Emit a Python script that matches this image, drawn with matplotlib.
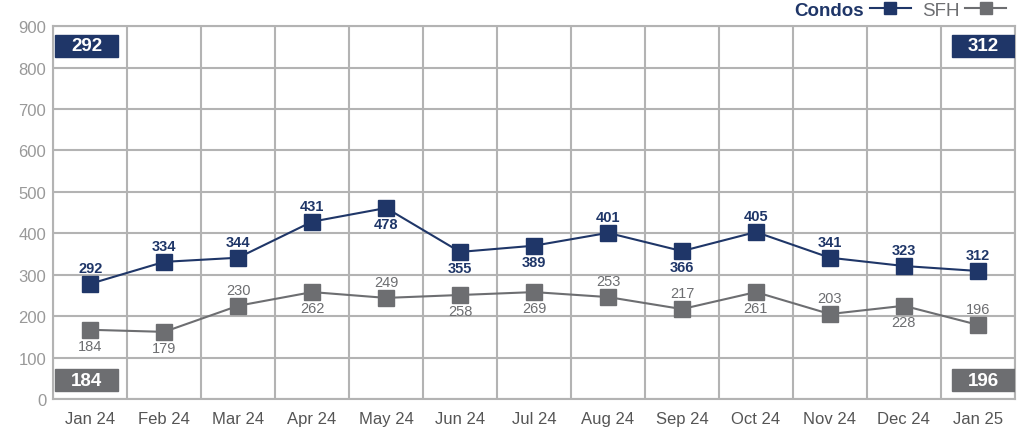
import matplotlib
matplotlib.use('Agg')
import matplotlib.pyplot as plt
from matplotlib.patches import Rectangle
from matplotlib.lines import Line2D

plt.rcParams['font.family'] = ['Liberation Sans', 'DejaVu Sans']

months = ['Jan 24', 'Feb 24', 'Mar 24', 'Apr 24', 'May 24', 'Jun 24', 'Jul 24',
          'Aug 24', 'Sep 24', 'Oct 24', 'Nov 24', 'Dec 24', 'Jan 25']
# where the points sit on the picture
condos = [278, 331, 341, 428, 461, 355, 370, 401, 357, 403, 341, 321, 309]
sfh = [167, 162, 225, 258, 244, 251, 258, 246, 217, 258, 205, 225, 179]
# the numbers printed next to them
condo_labels = ['292', '334', '344', '431', '478', '355', '389', '401', '366', '405', '341', '323', '312']
sfh_labels = ['184', '179', '230', '262', '249', '258', '269', '253', '217', '261', '203', '228', '196']
condo_above = [1, 1, 1, 1, 0, 0, 0, 1, 0, 1, 1, 1, 1]
sfh_above = [0, 0, 1, 0, 1, 0, 0, 1, 1, 0, 1, 0, 1]

navy = '#1f3668'
grey = '#6d6e71'
gridc = '#b3b3b3'

fig = plt.figure(figsize=(10.24, 4.31), dpi=100)
ax = fig.add_axes([0.052, 0.072, 0.939, 0.865])
x = list(range(len(months)))

ax.plot(x, condos, color=navy, lw=1.5, marker='s', ms=11, zorder=3)
ax.plot(x, sfh, color=grey, lw=1.5, marker='s', ms=11, zorder=3)

for i in x:
    off = 22 if condo_above[i] else -22
    ax.text(i, condos[i] + off, condo_labels[i], ha='center',
            va='bottom' if condo_above[i] else 'top',
            color=navy, fontsize=10.5, fontweight='bold')
    off = 22 if sfh_above[i] else -22
    ax.text(i, sfh[i] + off, sfh_labels[i], ha='center',
            va='bottom' if sfh_above[i] else 'top',
            color=grey, fontsize=10.5)

# corner boxes
for xs, txt, y0, c in [(-0.47, condo_labels[0], 826, navy), (11.65, condo_labels[-1], 826, navy),
                       (-0.47, sfh_labels[0], 19, grey), (11.65, sfh_labels[-1], 19, grey)]:
    ax.add_patch(Rectangle((xs, y0), 0.85, 53, color=c, zorder=4))
    ax.text(xs + 0.425, y0 + 26.5, txt, ha='center', va='center', color='white',
            fontsize=13.5, fontweight='bold', zorder=5)

ax.set_xlim(-0.5, 12.5)
ax.set_ylim(0, 900)
ax.set_yticks(range(0, 901, 100))
ax.set_xticks([i - 0.5 for i in x] + [12.5], minor=True)
ax.set_xticks(x)
ax.set_xticklabels(months)
ax.grid(True, which='minor', axis='x', color=gridc, lw=1.5)
ax.grid(True, which='major', axis='y', color=gridc, lw=1.5)
ax.tick_params(which='both', length=0)
ax.tick_params(axis='y', colors='#999999', labelsize=12, pad=5)
ax.tick_params(axis='x', colors='#555555', labelsize=12, pad=9)
for s in ax.spines.values():
    s.set_color(gridc)
    s.set_linewidth(1.5)

handles = [Line2D([], [], color=navy, marker='s', ms=8, lw=1.5),
           Line2D([], [], color=grey, marker='s', ms=8, lw=1.5)]
leg = ax.legend(handles, ['Condos', 'SFH'], ncol=2, markerfirst=False, frameon=False,
                loc='lower right', bbox_to_anchor=(1.005, 0.985), fontsize=13.5,
                handlelength=2.2, columnspacing=0.6, handletextpad=0.3, borderpad=0.2)
leg.get_texts()[0].set_color(navy)
leg.get_texts()[0].set_fontweight('bold')
leg.get_texts()[1].set_color(grey)

fig.savefig('out.png', dpi=100)
